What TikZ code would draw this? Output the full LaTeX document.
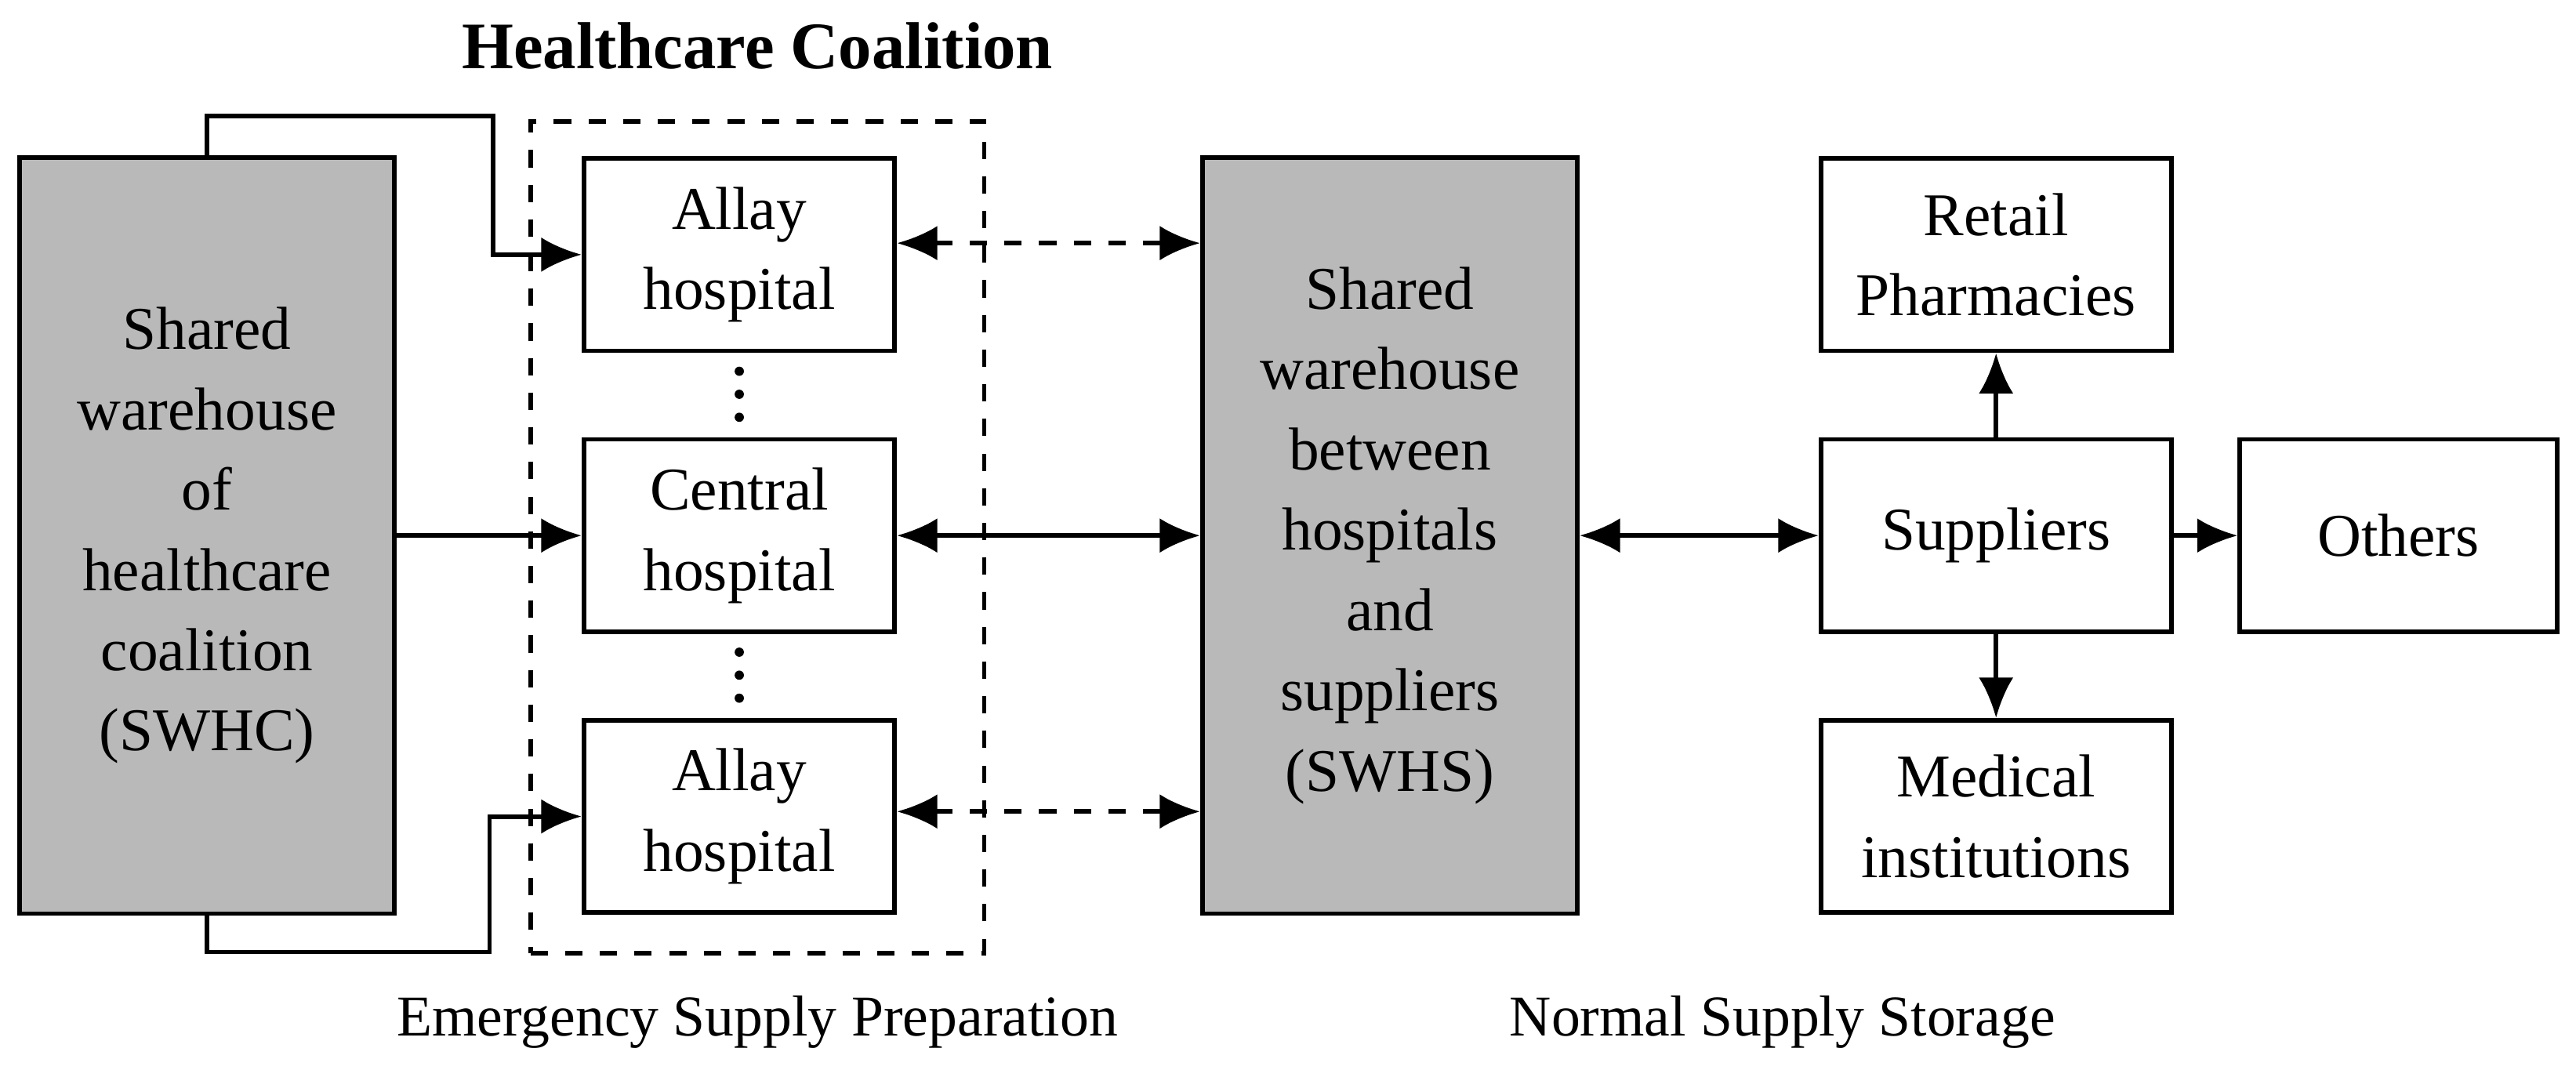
\documentclass[tikz,border=0pt]{standalone}
\usepackage{fontspec}
\setmainfont{Liberation Serif}
\usetikzlibrary{arrows.meta}
\begin{document}
\begin{tikzpicture}[x=0.01cm,y=-0.01cm,
  box/.style={draw,thick,align=center,inner sep=0pt,font=\fontsize{10.5}{13.9}\selectfont},
  gbox/.style={box,fill=gray!55,minimum width=2.28cm,minimum height=4.6cm},
  hbox/.style={box,minimum width=1.89cm,minimum height=1.17cm},
  sbox/.style={box,minimum width=2.13cm,minimum height=1.17cm},
  arr/.style={thick,-{Latex[length=7pt,width=6pt]}},
  darr/.style={thick,{Latex[length=7pt,width=6pt]}-{Latex[length=7pt,width=6pt]}},
  dot/.style={circle,fill,inner sep=0pt,minimum size=1.6pt},
  lbl/.style={font=\fontsize{10}{12}\selectfont}]
\useasboundingbox (0,0) rectangle (1568,651);
\node[gbox] (swhc) at (126,326) {Shared\\warehouse\\of\\healthcare\\coalition\\(SWHC)};
\node[gbox] (swhs) at (846,326) {Shared\\warehouse\\between\\hospitals\\and\\suppliers\\(SWHS)};
\node[hbox] (a1) at (450,155) {Allay\\hospital};
\node[hbox] (ch) at (450,326) {Central\\hospital};
\node[hbox] (a2) at (450,497) {Allay\\hospital};
\node[draw,thick,dashed,minimum width=2.76cm,minimum height=5.06cm] (hc) at (461,327) {};
\node[font=\fontsize{11.5}{13}\selectfont\bfseries] (title) at (461,28) {Healthcare Coalition};
\node[sbox] (ret) at (1215,155) {Retail\\Pharmacies};
\node[sbox] (sup) at (1215,326) {Suppliers};
\node[sbox] (med) at (1215,497) {Medical\\institutions};
\node[box,minimum width=1.93cm,minimum height=1.17cm] (oth) at (1460,326) {Others};
\node[lbl] (l1) at (461,622) {Emergency Supply Preparation};
\node[lbl] (l2) at (1085,622) {Normal Supply Storage};
\foreach \y in {226,240,254} {\node[dot] at (450,\y) {}; \node[dot] at (450,\y+171) {};}
\draw[arr] (swhc.north) -- ++(0,-24) -| (300,155) -- (a1.west);
\draw[arr] (swhc.south) -- ++(0,22) -| (298,497) -- (a2.west);
\draw[arr] (swhc.east |- ch) -- (ch.west);
\draw[darr,dashed] (a1.east |- 0,148) -- (swhs.west |- 0,148);
\draw[darr] (ch.east) -- (swhs.west |- ch);
\draw[darr,dashed] (a2.east |- 0,494) -- (swhs.west |- 0,494);
\draw[darr] (swhs.east |- sup) -- (sup.west);
\draw[arr] (sup.north) -- (ret.south);
\draw[arr] (sup.south) -- (med.north);
\draw[arr] (sup.east) -- (oth.west);
\end{tikzpicture}
\end{document}
